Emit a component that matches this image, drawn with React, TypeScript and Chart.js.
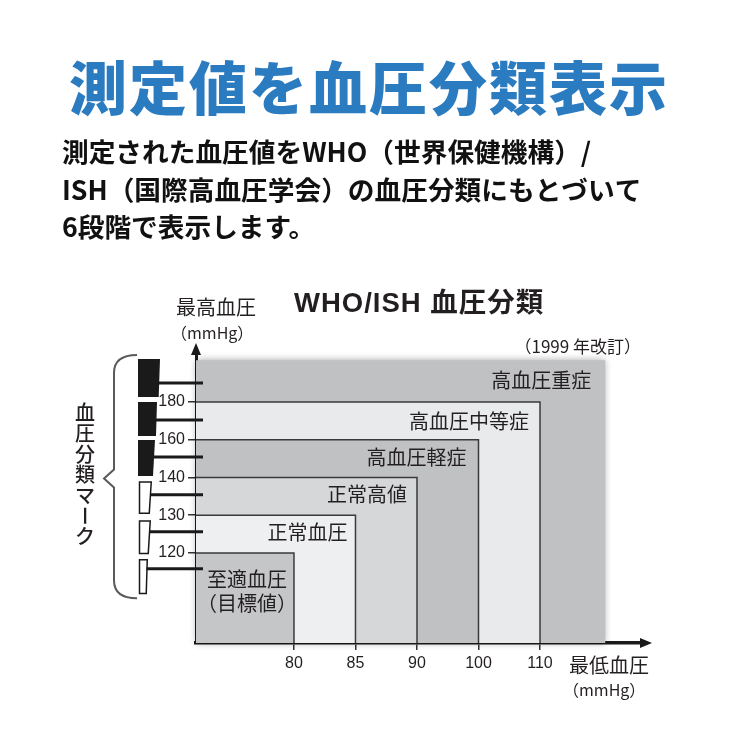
import { useEffect, useRef } from 'react';
import { Chart, registerables } from 'chart.js';

Chart.register(...registerables);

// ---------- data ----------
const CATEGORIES = ['至適血圧', '正常血圧', '正常高値', '高血圧軽症', '高血圧中等症', '高血圧重症'];
const CATEGORY_SUBLABELS = ['（目標値）', '', '', '', '', ''];
const DIASTOLIC_TICKS = [80, 85, 90, 100, 110]; // 最低血圧 (mmHg)
const SYSTOLIC_TICKS = [120, 130, 140, 160, 180]; // 最高血圧 (mmHg)
// upper limit of each class (null = open ended)
const DIASTOLIC_UPPER: (number | null)[] = [80, 85, 90, 100, 110, null];
const SYSTOLIC_UPPER: (number | null)[] = [120, 130, 140, 160, 180, null];
// 血圧分類マーク: extent of each mark on the (ordinal) systolic scale
const MARK_LOW = [-1.09, -0.03, 1.03, 2.04, 3.1, 4.13];
const MARK_HIGH = [-0.16, 0.87, 1.9, 2.99, 4.0, 5.14];
const MARK_LINK = [-0.42, 0.56, 1.54, 2.54, 3.52, 4.5];
const MARK_FILLED = [false, false, false, true, true, true];

// ordinal scale extents (tick index units)
const X_MIN = -1.593;
const X_MAX = 5.707;
const X_OPEN = 5.06;
const Y_MIN = -2.384;
const Y_MAX = 5.377;
const Y_OPEN = 5.1;

// ---------- styles ----------
const FILL_COLORS = ['#c5c6c8', '#eeeff1', '#d6d7d9', '#c0c1c3', '#e9eaec', '#c0c1c3'];
const LABEL_INSET = [0, 8, 10, 12, 11, 14];
const LABEL_DROP = [26, 17, 17, 18, 19, 20];
const MARK_W_TOP = [10, 13, 14, 17, 19, 22];
const MARK_W_BOT = [9, 11, 12, 15, 18, 20.7];
const JP = '"Noto Sans CJK JP", "Noto Sans CJK SC", sans-serif';
const LAT = '"Liberation Sans", Arial, "Noto Sans CJK JP", sans-serif';
const INK = '#231f20';

const xIdx = (v: number | null) => (v === null ? X_OPEN : DIASTOLIC_TICKS.indexOf(v));
const yIdx = (v: number | null) => (v === null ? Y_OPEN : SYSTOLIC_TICKS.indexOf(v));

const decorPlugin = {
  id: 'decor',
  beforeDraw(chart: any) {
    const ctx = chart.ctx;
    ctx.save();
    ctx.fillStyle = '#ffffff';
    ctx.fillRect(0, 0, chart.width, chart.height);
    ctx.restore();
  },
  beforeDatasetsDraw(chart: any) {
    const { ctx, chartArea, scales } = chart;
    const xs = scales.x;
    const ys = scales.y;
    const i = CATEGORIES.length - 1;
    const r = xs.getPixelForValue(xIdx(DIASTOLIC_UPPER[i]));
    const t = ys.getPixelForValue(yIdx(SYSTOLIC_UPPER[i]));
    ctx.save();
    ctx.shadowColor = 'rgba(0,0,0,0.35)';
    ctx.shadowBlur = 7;
    ctx.fillStyle = FILL_COLORS[i];
    ctx.fillRect(chartArea.left, t, r - chartArea.left, chartArea.bottom - t);
    ctx.restore();
  },
  afterDraw(chart: any) {
    const { ctx, chartArea, scales } = chart;
    const xs = scales.x;
    const ys = scales.y;
    const L = chartArea.left;
    const B = chartArea.bottom;
    ctx.save();

    // class labels
    ctx.fillStyle = INK;
    ctx.font = `20px ${JP}`;
    ctx.textBaseline = 'middle';
    CATEGORIES.forEach((name, i) => {
      const r = xs.getPixelForValue(xIdx(DIASTOLIC_UPPER[i]));
      const t = ys.getPixelForValue(yIdx(SYSTOLIC_UPPER[i]));
      if (CATEGORY_SUBLABELS[i]) {
        ctx.textAlign = 'center';
        const cx = (L + r) / 2 + 2;
        ctx.fillText(name, cx, t + LABEL_DROP[i]);
        ctx.fillText(CATEGORY_SUBLABELS[i], cx, t + LABEL_DROP[i] + 24);
      } else {
        ctx.textAlign = 'right';
        ctx.fillText(name, r - LABEL_INSET[i], t + LABEL_DROP[i]);
      }
    });

    // axis arrows
    ctx.fillStyle = '#1a1a1a';
    const T = chartArea.top;
    ctx.beginPath();
    ctx.moveTo(L, T - 7);
    ctx.lineTo(L - 5, T + 5);
    ctx.lineTo(L + 5, T + 5);
    ctx.closePath();
    ctx.fill();
    const R = chartArea.right;
    ctx.beginPath();
    ctx.moveTo(R + 7, B);
    ctx.lineTo(R - 5, B - 5);
    ctx.lineTo(R - 5, B + 5);
    ctx.closePath();
    ctx.fill();

    // marks
    const x0 = L - 58;
    CATEGORIES.forEach((_, i) => {
      const yt = ys.getPixelForValue(MARK_HIGH[i]);
      const yb = ys.getPixelForValue(MARK_LOW[i]);
      const wt = MARK_W_TOP[i];
      const wb = MARK_W_BOT[i];
      ctx.beginPath();
      if (MARK_FILLED[i]) {
        ctx.moveTo(x0, yt);
        ctx.lineTo(x0 + wt, yt);
        ctx.lineTo(x0 + wb, yb);
        ctx.lineTo(x0, yb);
        ctx.closePath();
        ctx.fillStyle = '#1a1a1a';
        ctx.fill();
      } else {
        ctx.moveTo(x0 + 1.5, yt + 0.75);
        ctx.lineTo(x0 + wt - 0.75, yt + 0.75);
        ctx.lineTo(x0 + wb - 0.75, yb - 0.75);
        ctx.lineTo(x0 + 1.5, yb - 0.75);
        ctx.closePath();
        ctx.fillStyle = '#ffffff';
        ctx.fill();
        ctx.strokeStyle = '#1a1a1a';
        ctx.lineWidth = 1.5;
        ctx.stroke();
      }
      const yl = ys.getPixelForValue(MARK_LINK[i]);
      ctx.beginPath();
      ctx.moveTo(x0 + (wt + wb) / 2 - 1, yl);
      ctx.lineTo(L + 7, yl);
      ctx.strokeStyle = '#1a1a1a';
      ctx.lineWidth = 3;
      ctx.stroke();
    });

    // brace
    const bt = ys.getPixelForValue(MARK_HIGH[MARK_HIGH.length - 1]) - 4;
    const bb = ys.getPixelForValue(MARK_LOW[0]) + 4;
    const bm = (bt + bb) / 2 + 2;
    const bx = L - 82;
    ctx.beginPath();
    ctx.moveTo(L - 59, bt);
    ctx.quadraticCurveTo(bx, bt, bx, bt + 18);
    ctx.lineTo(bx, bm - 9);
    ctx.lineTo(bx - 10, bm);
    ctx.lineTo(bx, bm + 9);
    ctx.lineTo(bx, bb - 18);
    ctx.quadraticCurveTo(bx, bb, L - 59, bb);
    ctx.strokeStyle = '#5a5a5a';
    ctx.lineWidth = 2;
    ctx.stroke();

    // vertical caption
    const cap = '血圧分類マーク';
    ctx.fillStyle = INK;
    ctx.font = `500 20px ${JP}`;
    ctx.textAlign = 'center';
    ctx.textBaseline = 'middle';
    const pitch = 20.6;
    const cy0 = bm - 4 - (pitch * (cap.length - 1)) / 2;
    [...cap].forEach((ch, k) => {
      const cy = cy0 + k * pitch;
      if (ch === 'ー') {
        ctx.save();
        ctx.translate(L - 111, cy);
        ctx.rotate(Math.PI / 2);
        ctx.fillText(ch, 0, 0);
        ctx.restore();
      } else {
        ctx.fillText(ch, L - 111, cy);
      }
    });

    // axis titles
    ctx.textAlign = 'left';
    ctx.font = `20px ${JP}`;
    ctx.fillText('最高血圧', 176, 307);
    ctx.font = `16px ${JP}`;
    ctx.fillText('（mmHg）', 171, 333);
    ctx.font = `20px ${JP}`;
    ctx.fillText('最低血圧', 569, 665);
    ctx.font = `16px ${JP}`;
    ctx.fillText('（mmHg）', 563, 690);

    // chart title
    ctx.font = `bold 27.5px ${LAT}`;
    (ctx as any).letterSpacing = '1px';
    ctx.fillText('WHO/ISH 血圧分類', 294, 304);
    (ctx as any).letterSpacing = '0px';
    ctx.font = `17px ${JP}`;
    ctx.textAlign = 'right';
    ctx.fillText('（1999 年改訂）', 641, 347);

    // page heading
    ctx.textAlign = 'center';
    ctx.fillStyle = '#2b7bc0';
    ctx.font = `900 58px ${JP}`;
    (ctx as any).letterSpacing = '2px';
    ctx.fillText('測定値を血圧分類表示', 369, 88);
    (ctx as any).letterSpacing = '0px';

    ctx.textAlign = 'left';
    ctx.fillStyle = '#111111';
    ctx.font = `bold 26.7px ${JP}`;
    ctx.fillText('測定された血圧値をWHO（世界保健機構）/', 62, 152);
    ctx.fillText('ISH（国際高血圧学会）の血圧分類にもとづいて', 62, 190);
    ctx.fillText('6段階で表示します。', 62, 227);

    ctx.restore();
  },
};

export default function App() {
  const ref = useRef<HTMLCanvasElement>(null);
  useEffect(() => {
    const canvas = ref.current;
    if (!canvas) return;
    const datasets = CATEGORIES.map((name, i) => {
      const xr = xIdx(DIASTOLIC_UPPER[i]);
      const yt = yIdx(SYSTOLIC_UPPER[i]);
      const outer = i === CATEGORIES.length - 1;
      return {
        label: name,
        data: [
          { x: X_MIN, y: yt },
          { x: xr, y: yt },
          { x: xr, y: Y_MIN },
        ],
        showLine: true,
        fill: 'start',
        backgroundColor: FILL_COLORS[i],
        borderColor: outer ? 'rgba(0,0,0,0)' : '#3a3a3a',
        borderWidth: outer ? 0 : 1.5,
        pointRadius: 0,
        pointHoverRadius: 0,
        tension: 0,
        order: i,
      };
    });
    const chart = new Chart(canvas, {
      type: 'line',
      data: { datasets: datasets as any },
      options: {
        responsive: false,
        animation: false,
        devicePixelRatio: 1,
        events: [],
        layout: { padding: { left: 136, right: 95, top: 350, bottom: 57 } },
        plugins: {
          legend: { display: false },
          tooltip: { enabled: false },
          title: { display: false },
        },
        scales: {
          x: {
            type: 'linear',
            min: X_MIN,
            max: X_MAX,
            z: 1,
            afterBuildTicks: (s: any) => {
              s.ticks = DIASTOLIC_TICKS.map((_, i) => ({ value: i }));
            },
            afterFit: (s: any) => {
              s.height = 40;
            },
            ticks: {
              autoSkip: false,
              maxRotation: 0,
              padding: 4,
              color: INK,
              font: { family: LAT, size: 16 },
              callback: (_v: any, i: number) => String(DIASTOLIC_TICKS[i]),
            },
            grid: { display: true, drawOnChartArea: false, drawTicks: true, tickLength: 7, color: '#333333', lineWidth: 1.5 },
            border: { display: true, color: '#1a1a1a', width: 3.5 },
          },
          y: {
            type: 'linear',
            min: Y_MIN,
            max: Y_MAX,
            z: 1,
            afterBuildTicks: (s: any) => {
              s.ticks = SYSTOLIC_TICKS.map((_, i) => ({ value: i }));
            },
            afterFit: (s: any) => {
              s.width = 60;
            },
            ticks: {
              autoSkip: false,
              padding: 3,
              color: INK,
              font: { family: LAT, size: 16 },
              callback: (_v: any, i: number) => String(SYSTOLIC_TICKS[i]),
            },
            grid: { display: true, drawOnChartArea: false, drawTicks: true, tickLength: 8, color: '#333333', lineWidth: 1.5 },
            border: { display: true, color: '#1a1a1a', width: 3 },
          },
        },
      },
      plugins: [decorPlugin],
    });
    return () => chart.destroy();
  }, []);
  return (
    <canvas
      ref={ref}
      width={740}
      height={740}
      style={{ position: 'absolute', left: 0, top: 0, width: 740, height: 740 }}
    />
  );
}
